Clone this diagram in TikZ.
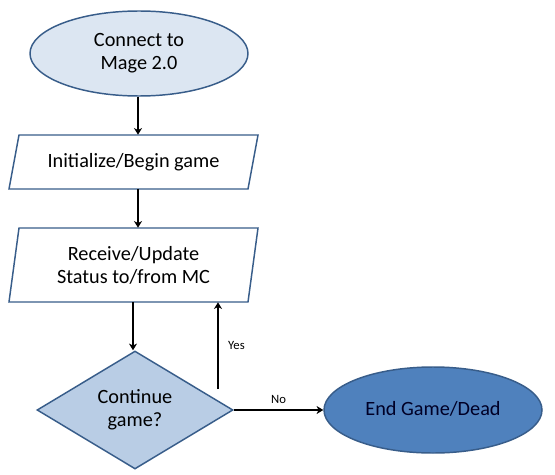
\documentclass[tikz,border=0pt]{standalone}
\usepackage{fontspec}
\setmainfont{Carlito}
\usetikzlibrary{shapes.geometric,arrows.meta}
\definecolor{bord}{HTML}{385D8A}
\definecolor{lightfill}{HTML}{DCE6F2}
\definecolor{midfill}{HTML}{B9CDE5}
\definecolor{darkfill}{HTML}{4F81BD}
\begin{document}
\begin{tikzpicture}[x=0.75pt,y=-0.75pt,
  shapebord/.style={draw=bord,line width=1.1pt},
  lbl/.style={font=\fontsize{15.2pt}{17.25pt}\selectfont,align=center,text=black},
  small/.style={font=\fontsize{9.5pt}{11pt}\selectfont,text=black,inner sep=0pt},
  conn/.style={draw=black,line width=1.3pt,-{Stealth[length=5pt,width=6pt,inset=1.5pt]}},
  elli/.style={ellipse,shapebord,lbl,minimum width=163.5pt,inner sep=0pt},
  boxnode/.style={rectangle,lbl,inner sep=0pt,minimum width=172pt}
]
\useasboundingbox (0,0) rectangle (555,474);
\fill[white] (0,0) rectangle (555,474);
% start ellipse
\node[elli,fill=lightfill,minimum height=63.75pt] (start) at (139,53.5) {Connect to\\Mage 2.0};
% parallelogram 1
\draw[shapebord,fill=white] (19,135) -- (258,135) -- (248,189) -- (9,189) -- cycle;
\node[boxnode,minimum height=40.5pt] (init) at (133.5,162) {Initialize/Begin game};
% parallelogram 2
\draw[shapebord,fill=white] (19,228) -- (258,228) -- (248,302) -- (9,302) -- cycle;
\node[boxnode,minimum height=55.5pt] (recv) at (133.5,265) {Receive/Update\\Status to/from MC};
% diamond
\node[diamond,shapebord,fill=midfill,lbl,aspect=1.66,inner sep=0pt,minimum width=147pt,minimum height=88.5pt] (cont) at (135,410) {Continue\\game?};
% end ellipse
\node[elli,fill=darkfill,minimum height=64.5pt,text=black!85!blue] (end) at (433,410) {\raisebox{3pt}{End Game/Dead}};
% connectors
\draw[conn] (start.south -| 138,0) -- (init.north -| 138,0);
\draw[conn] (init.south -| 138,0) -- (recv.north -| 138,0);
\draw[conn] (recv.south -| 133,0) -- (cont.north -| 133,0);
\coordinate (yesfoot) at (218,389);
\draw[conn] (yesfoot) -- (recv.south -| yesfoot) node[small,pos=0.5,right=7pt] (yes) {Yes};
\draw[conn] (cont.east) -- (end.west) node[small,pos=0.5,above=4pt] (no) {No};
\end{tikzpicture}
\end{document}
